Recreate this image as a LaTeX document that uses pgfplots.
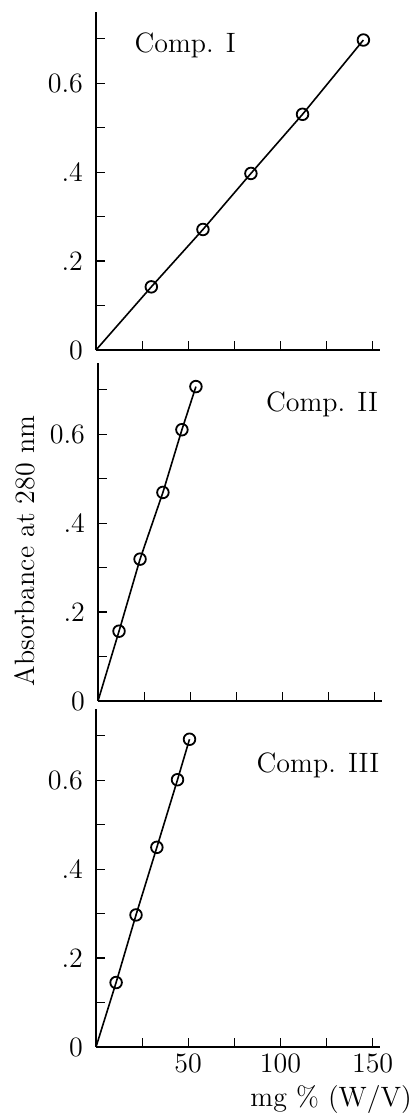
\documentclass[border=0pt]{standalone}
\usepackage{pgfplots}
\pgfplotsset{compat=1.18}

\tikzset{lab/.style={inner sep=0pt, font=\fontsize{14}{16}\selectfont}}

\pgfplotsset{
  panel/.style={
    scale only axis,
    width=142pt, height=169pt,
    anchor=south west,
    xmin=0, xmax=154, ymin=0, ymax=0.76,
    axis x line=bottom, axis y line=left,
    axis line style={-, line width=0.9pt},
    tick align=inside,
    major tick length=4.5pt,
    tick style={line width=0.6pt, black},
    xtick={25,50,75,100,125,150},
    ytick={0,0.1,0.2,0.3,0.4,0.5,0.6,0.7},
    yticklabels={0,,.2,,.4,,0.6,},
    xticklabels={},
    ticklabel style={font=\fontsize{14}{16}\selectfont},
    yticklabel style={xshift=-3pt},
    clip=false,
  },
  curve/.style={black, line width=0.8pt, mark=o,
    mark indices={2,3,4,5,6},
    mark options={fill=white, line width=0.9pt, scale=1.45}},
}

\begin{document}
\begin{tikzpicture}
\useasboundingbox (0,0) rectangle (208.5pt,-556.5pt);

% Comp. I
\begin{axis}[panel, at={(48pt,-175pt)}]
\addplot[curve] coordinates {(0,0) (30,0.142) (58,0.271) (84,0.397) (112,0.530) (145,0.697)};
\node[lab, anchor=west] at (axis cs:20.7,0.685) {Comp. I};
\end{axis}

% Comp. II
\begin{axis}[panel, at={(49pt,-350.5pt)}]
\addplot[curve] coordinates {(0,0) (11.4,0.157) (22.8,0.319) (35.2,0.469) (45.5,0.610) (53.1,0.707)};
\node[lab, anchor=east] at (axis cs:152,0.668) {Comp. II};
\end{axis}

% Comp. III
\begin{axis}[panel, at={(48pt,-523.5pt)}, xticklabels={,50,,100,,150}]
\addplot[curve] coordinates {(0,0) (10.9,0.145) (21.7,0.297) (33,0.449) (44.2,0.601) (50.7,0.692)};
\node[lab, anchor=east] at (axis cs:153.8,0.634) {Comp. III};
\end{axis}

\node[lab, rotate=90] at (12.5pt,-275.5pt) {Absorbance at 280 nm};
\node[lab, anchor=west] at (125pt,-550pt) {mg \% (W/V)};
\end{tikzpicture}
\end{document}
